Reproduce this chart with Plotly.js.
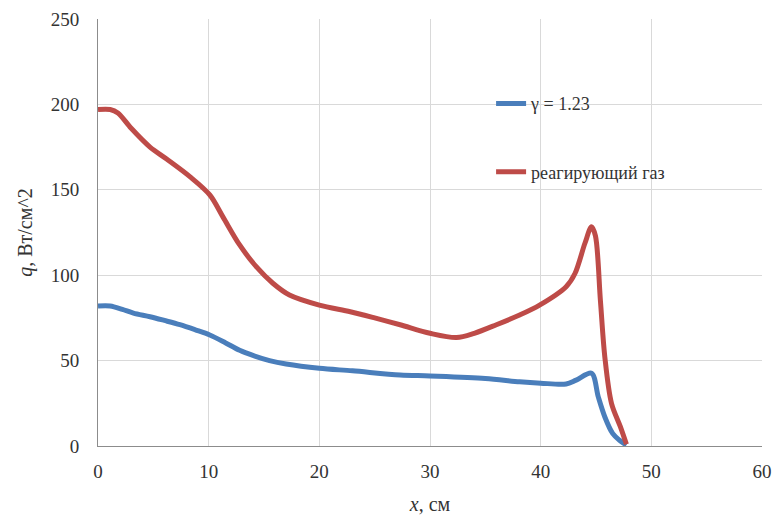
<!DOCTYPE html>
<html><head><meta charset="utf-8">
<script src="https://cdn.plot.ly/plotly-3.0.1.min.js"></script>
<style>
html,body{margin:0;padding:0;background:#fff}
#chart{width:774px;height:522px}
</style>
</head><body><div id="chart"></div>
<script>
const xBlue = [0, 1.1, 2.2, 3.2, 4.7, 6, 7.4, 8.8, 10.1, 11.5, 12.8, 14, 15.5, 17, 20, 23, 27.3, 30, 35, 38.1, 40, 42.3, 43.2, 44.6, 45.2, 45.8, 46.5, 47.1, 47.75];
const qBlue = [82, 82, 80, 77.8, 75.7, 73.5, 71, 68, 65, 60.5, 56, 53, 50, 48, 45.5, 44, 41.6, 41, 39.5, 37.6, 36.8, 36.3, 38.6, 42.6, 28.9, 17, 7.4, 3.5, 0.5];
const xRed = [0, 1.1, 1.8, 3, 4.7, 6.2, 8.3, 10.1, 11.3, 12.8, 14.3, 15.8, 17.3, 20, 22.8, 25, 27.3, 30, 32.4, 34, 36, 38.1, 39.9, 42.3, 43.1, 44, 44.6, 44.95, 45.4, 45.8, 46.4, 47.2, 47.75];
const qRed = [197, 197, 195, 186, 175, 168, 157.7, 147, 134, 117.7, 105, 95.3, 88.4, 82.5, 78.6, 75, 71, 66, 63.5, 66, 71, 76.7, 82.5, 93.3, 101, 118.7, 128.4, 123, 85, 52, 25, 11.3, 1];
const names = ['γ = 1.23', 'реагирующий газ'];
const xTicks = [0, 10, 20, 30, 40, 50, 60];
const yTicks = [0, 50, 100, 150, 200, 250];

const fam = 'Times New Roman';
function f(size) { return {family: fam, size: size, color: '#333333'}; }
const data = [
  {x: xBlue, y: qBlue, name: names[0], mode: 'lines', legendgroup: 'a',
   line: {color: '#4A7EBB', width: 5, shape: 'spline', smoothing: 0.9}},
  {x: xRed, y: qRed, name: names[1], mode: 'lines', legendgroup: 'b',
   line: {color: '#BE4B48', width: 5, shape: 'spline', smoothing: 0.9}}
];
const layout = {
  width: 774, height: 522,
  margin: {l: 98, r: 12, t: 19, b: 76},
  paper_bgcolor: '#fff', plot_bgcolor: '#fff',
  font: f(18),
  showlegend: true,
  legend: {x: 0.592, y: 0.845, xanchor: 'left', yanchor: 'top', bgcolor: 'rgba(0,0,0,0)',
           font: f(18), traceorder: 'grouped', tracegroupgap: 42},
  xaxis: {range: [0, 60], tickvals: xTicks, ticktext: xTicks.map(String), showgrid: true,
          gridcolor: '#D9D9D9', gridwidth: 1, zeroline: false, showline: true, linecolor: '#8C8C8C',
          linewidth: 1, ticks: '', tickfont: f(19), ticklabelstandoff: 8,
          title: {text: '<i>x</i>, см', font: f(20), standoff: 16}},
  yaxis: {range: [0, 250], tickvals: yTicks, ticktext: yTicks.map(String), showgrid: true,
          gridcolor: '#D9D9D9', gridwidth: 1, zeroline: false, showline: true, linecolor: '#8C8C8C',
          linewidth: 1, ticks: '', tickfont: f(19), ticklabelstandoff: 14,
          title: {text: '<i>q</i>, Вт/см^2', font: f(20), standoff: 12}}
};
Plotly.newPlot('chart', data, layout, {displayModeBar: false, staticPlot: true});
</script></body></html>
